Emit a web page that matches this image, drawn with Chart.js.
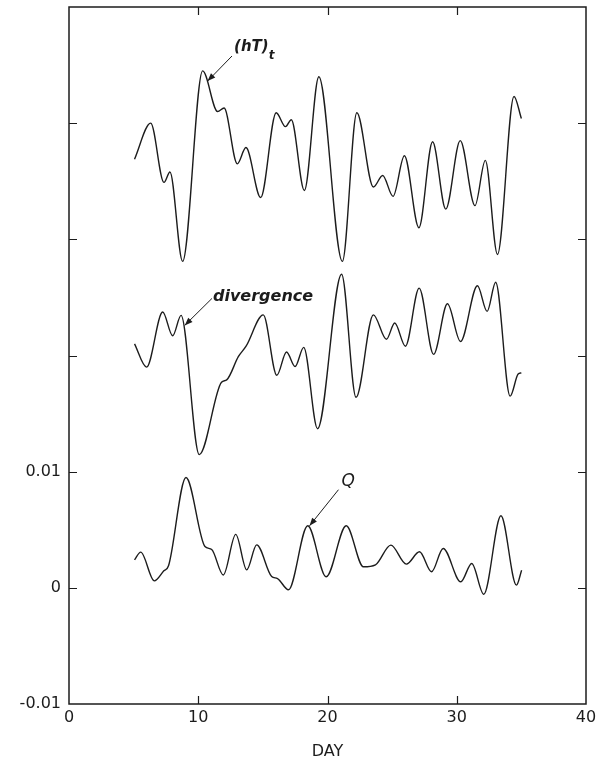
<!DOCTYPE html>
<html>
<head>
<meta charset="utf-8">
<script src="https://cdn.jsdelivr.net/npm/chart.js@4.4.1/dist/chart.umd.min.js"></script>
<style>
  html, body { margin: 0; padding: 0; background: #fff; }
  #chart { display: block; }
</style>
</head>
<body>
<canvas id="chart" width="601" height="763"></canvas>
<script>
// Three daily series, day 5 to 35. The (hT)t and divergence curves are
// stacked above Q, so their values are already shifted up on the axis.
const htDays = [5.07, 6.32, 7.35, 7.81, 8.79, 10.34, 11.50, 12.00, 13.02, 13.69,
  14.83, 16.03, 16.75, 17.20, 18.21, 19.33, 21.15, 22.27, 23.55, 24.27,
  25.07, 25.95, 27.07, 28.13, 29.15, 30.27, 31.41, 32.21, 33.15, 34.43, 35.00];
const htValues = [0.0369, 0.0400, 0.0349, 0.0358, 0.0281, 0.0445, 0.0410, 0.0413, 0.0365, 0.0379,
  0.0336, 0.0409, 0.0397, 0.0403, 0.0342, 0.0440, 0.0281, 0.0409, 0.0345, 0.0355,
  0.0337, 0.0372, 0.0310, 0.0384, 0.0326, 0.0385, 0.0329, 0.0368, 0.0287, 0.0423, 0.0404];

const divDays = [5.07, 6.00, 7.25, 8.02, 8.67, 10.08, 11.80, 12.20, 13.10, 13.70,
  15.03, 16.08, 16.83, 17.49, 18.16, 19.23, 21.09, 22.21, 23.55, 24.56,
  25.20, 26.03, 27.09, 28.21, 29.28, 30.29, 31.60, 32.35, 33.01, 34.13, 34.75, 35.00];
const divValues = [0.0210, 0.0190, 0.02375, 0.0217, 0.02345, 0.01147, 0.0177, 0.0179, 0.0199, 0.0208,
  0.0235, 0.0183, 0.0203, 0.01905, 0.0207, 0.0137, 0.0270, 0.0164, 0.0235, 0.0214,
  0.0228, 0.0208, 0.0258, 0.0201, 0.02445, 0.0212, 0.0260, 0.0238, 0.0263, 0.0165, 0.0184, 0.0185];

const qDays = [5.07, 5.55, 6.60, 7.34, 7.70, 9.05, 10.52, 11.04, 11.94, 12.90,
  13.75, 14.52, 15.68, 16.13, 16.98, 18.47, 19.90, 21.45, 22.78, 23.71,
  24.90, 26.10, 27.12, 28.05, 28.95, 30.31, 31.16, 32.09, 33.42, 34.62, 35.02];
const qValues = [0.00241, 0.00307, 0.0006, 0.00147, 0.0019, 0.0095, 0.00356, 0.0033, 0.0011, 0.0046,
  0.00155, 0.0037, 0.00097, 0.0008, -0.00017, 0.00534, 0.00095, 0.00534, 0.00181, 0.00198,
  0.00368, 0.00204, 0.0031, 0.00138, 0.00339, 0.00052, 0.0021, -0.00055, 0.0062, 0.00023, 0.00152];

const xTicks = [0, 10, 20, 30, 40];
const yTickLabels = ["-0.01", "0", "0.01"];   // only these get a label
const yTickValues = [-0.01, 0, 0.01];

const INK = "#1c1c1c";

function series(days, values) {
  return {
    data: days.map((d, i) => ({ x: d, y: values[i] })),
    borderColor: INK,
    borderWidth: 1.4,
    pointRadius: 0,
    fill: false,
    cubicInterpolationMode: "monotone"
  };
}

// curve labels with an arrow pointing at the curve (all in data units)
const notes = [
  { text: "(hT)", sub: "t", at: [12.77, 0.0462], from: [12.61, 0.04578], to: [10.72, 0.04362], font: "italic bold 15px 'DejaVu Sans'" },
  { text: "divergence", at: [11.14, 0.02470], from: [11.06, 0.02491], to: [8.95, 0.02259], font: "italic bold 16px 'DejaVu Sans'" },
  { text: "Q", at: [21.09, 0.00879], from: [20.85, 0.00845], to: [18.61, 0.00534], font: "italic 17px 'DejaVu Sans'" }
];

// box round the plot with inward ticks on all four sides
const framePlugin = {
  id: "frame",
  afterDatasetsDraw(chart) {
    const { ctx, chartArea: a, scales: { x, y } } = chart;
    ctx.save();
    ctx.strokeStyle = INK;
    ctx.lineWidth = 1.5;
    ctx.strokeRect(a.left, a.top, a.right - a.left, a.bottom - a.top);
    ctx.lineWidth = 1.2;
    ctx.beginPath();
    x.ticks.forEach(t => {
      if (t.value <= x.min || t.value >= x.max) return;
      const px = Math.round(x.getPixelForValue(t.value)) + 0.5;
      ctx.moveTo(px, a.bottom); ctx.lineTo(px, a.bottom - 8);
      ctx.moveTo(px, a.top); ctx.lineTo(px, a.top + 8);
    });
    y.ticks.forEach(t => {
      if (t.value <= y.min + 1e-9 || t.value >= y.max - 1e-9) return;
      const py = Math.round(y.getPixelForValue(t.value)) + 0.5;
      ctx.moveTo(a.left, py); ctx.lineTo(a.left + 8, py);
      ctx.moveTo(a.right, py); ctx.lineTo(a.right - 8, py);
    });
    ctx.stroke();
    ctx.restore();
  }
};

const notesPlugin = {
  id: "notes",
  afterDatasetsDraw(chart) {
    const { ctx, scales: { x, y } } = chart;
    ctx.save();
    ctx.fillStyle = INK;
    ctx.strokeStyle = INK;
    notes.forEach(n => {
      const tx = x.getPixelForValue(n.at[0]), ty = y.getPixelForValue(n.at[1]);
      ctx.font = n.font;
      ctx.textBaseline = "alphabetic";
      ctx.textAlign = "left";
      ctx.fillText(n.text, tx, ty);
      if (n.sub) {
        const w = ctx.measureText(n.text).width;
        ctx.font = "italic bold 12px 'DejaVu Sans'";
        ctx.fillText(n.sub, tx + w, ty + 8);
      }
      const x0 = x.getPixelForValue(n.from[0]), y0 = y.getPixelForValue(n.from[1]);
      const x1 = x.getPixelForValue(n.to[0]), y1 = y.getPixelForValue(n.to[1]);
      ctx.lineWidth = 1;
      ctx.beginPath();
      ctx.moveTo(x0, y0); ctx.lineTo(x1, y1);
      ctx.stroke();
      const ang = Math.atan2(y1 - y0, x1 - x0);
      ctx.beginPath();
      ctx.moveTo(x1, y1);
      ctx.lineTo(x1 - 8 * Math.cos(ang) + 3 * Math.sin(ang), y1 - 8 * Math.sin(ang) - 3 * Math.cos(ang));
      ctx.lineTo(x1 - 8 * Math.cos(ang) - 3 * Math.sin(ang), y1 - 8 * Math.sin(ang) + 3 * Math.cos(ang));
      ctx.closePath();
      ctx.fill();
    });
    ctx.restore();
  }
};

const tickFont = { family: "'DejaVu Sans'", size: 16 };

new Chart(document.getElementById("chart"), {
  type: "line",
  data: {
    datasets: [series(htDays, htValues), series(divDays, divValues), series(qDays, qValues)]
  },
  options: {
    responsive: false,
    animation: false,
    layout: { padding: { top: 7, right: 15, left: 0, bottom: 0 } },
    plugins: { legend: { display: false }, tooltip: { enabled: false } },
    scales: {
      x: {
        type: "linear",
        min: 0,
        max: 40,
        grid: { display: false, drawTicks: false },
        border: { display: false },
        ticks: {
          stepSize: 10,
          padding: 4,
          color: INK,
          font: tickFont,
          maxRotation: 0,
          autoSkip: false,
          callback: v => xTicks.includes(v) ? String(v) : ""
        },
        title: {
          display: true,
          text: "DAY",
          color: INK,
          font: tickFont,
          padding: { top: 0, bottom: 2 }
        },
        afterFit: s => { s.height = 59; s.paddingLeft = 0; s.paddingRight = 0; }
      },
      y: {
        min: -0.01,
        max: 0.05,
        grid: { display: false, drawTicks: false },
        border: { display: false },
        ticks: {
          stepSize: 0.01,
          padding: 8,
          color: INK,
          font: tickFont,
          callback: v => {
            const i = yTickValues.findIndex(t => Math.abs(t - v) < 1e-6);
            return i >= 0 ? yTickLabels[i] : "";
          }
        },
        afterFit: s => { s.width = 69; s.paddingTop = 0; s.paddingBottom = 0; }
      }
    }
  },
  plugins: [framePlugin, notesPlugin]
});
</script>
</body>
</html>
